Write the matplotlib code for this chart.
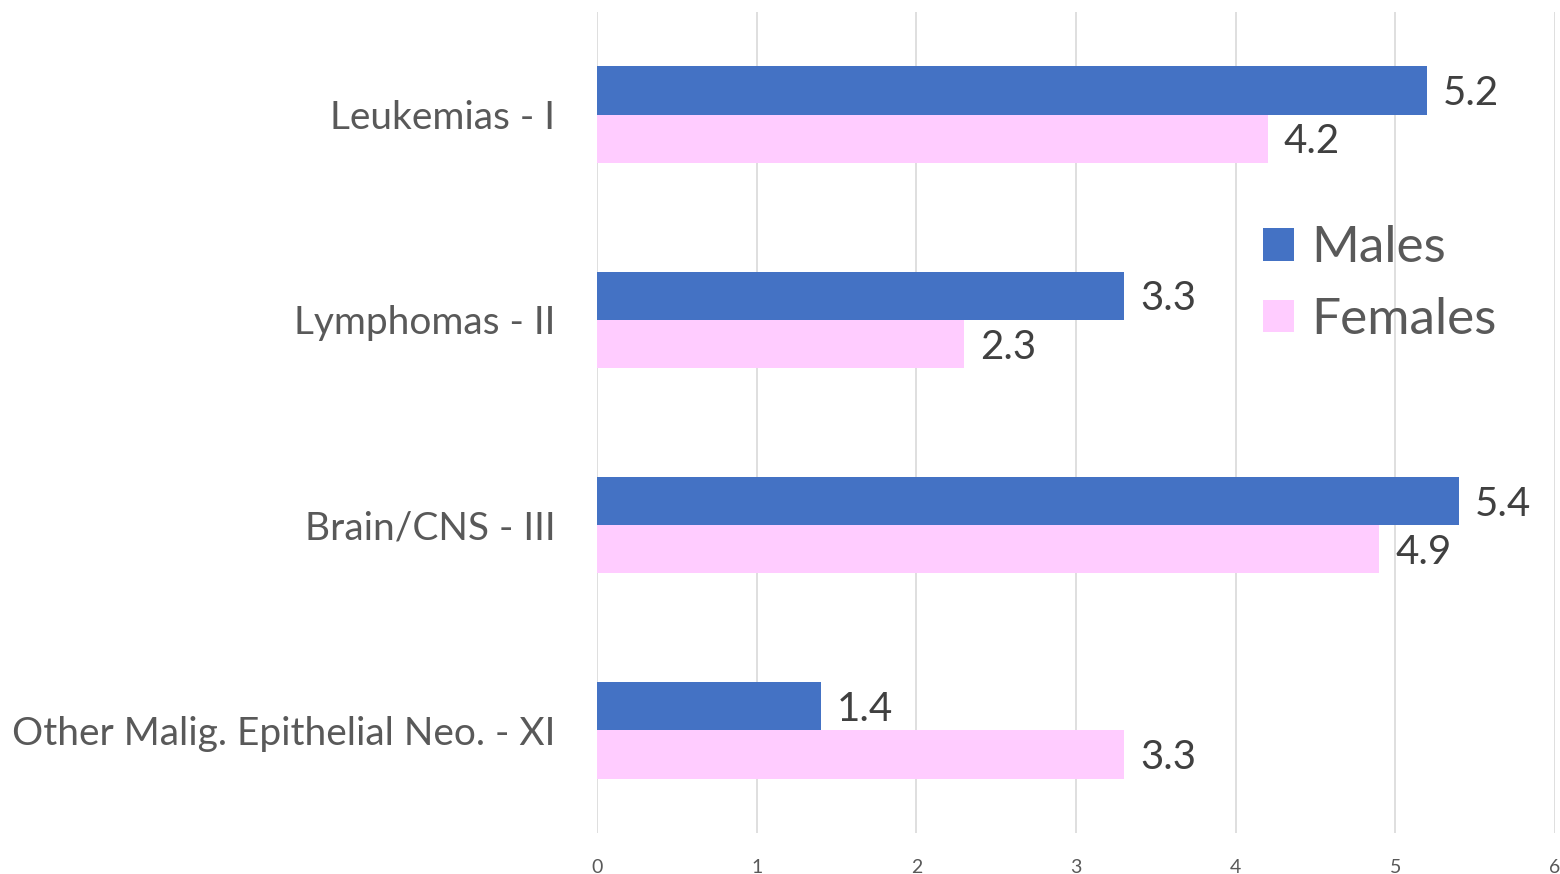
import matplotlib.pyplot as plt
import numpy as np

categories = ["Leukemias - I", "Lymphomas - II", "Brain/CNS - III",
              "Other Malig. Epithelial Neo. - XI"]
males = [5.2, 3.3, 5.4, 1.4]
females = [4.2, 2.3, 4.9, 3.3]
xticks = [0, 1, 2, 3, 4, 5, 6]

TEXT = "#595959"
plt.rcParams["font.family"] = ["Lato", "DejaVu Sans"]

fig = plt.figure(figsize=(15.6, 8.74), dpi=100)
ax = fig.add_axes([0.3827, 0.0469, 0.6141, 0.9394])

y = np.arange(len(categories))
h = 0.235
bm = ax.barh(y - h / 2, males, height=h, color="#4472C4", label="Males")
bf = ax.barh(y + h / 2, females, height=h, color="#FFCCFF", label="Females")

# value labels at the end of each bar
for bars in (bm, bf):
    for b in bars:
        ax.text(b.get_width() + 0.1, b.get_y() + b.get_height() / 2 + 0.015,
                f"{b.get_width():.1f}", va="center", ha="left",
                fontsize=29, color="#404040")

ax.set_ylim(len(categories) - 0.5, -0.5)
ax.set_xlim(0, 6)
ax.set_xticks(xticks)
ax.set_xticklabels([str(t) for t in xticks], fontsize=14, color=TEXT)
ax.set_yticks(y)
ax.set_yticklabels(categories, fontsize=28, color=TEXT)
ax.tick_params(axis="both", length=0)
ax.tick_params(axis="x", pad=19)
ax.tick_params(axis="y", pad=30)
ax.grid(axis="x", color="#D9D9D9", linewidth=1.2)
ax.set_axisbelow(True)
for s in ax.spines.values():
    s.set_visible(False)

leg = ax.legend(loc="upper left", bbox_to_anchor=(0.695, 0.74), frameon=False,
                fontsize=37, handlelength=0.6, handleheight=0.6,
                handletextpad=0.35, labelspacing=0.5,
                borderpad=0, borderaxespad=0)
for t in leg.get_texts():
    t.set_color(TEXT)

fig.savefig("out.png", dpi=100)
